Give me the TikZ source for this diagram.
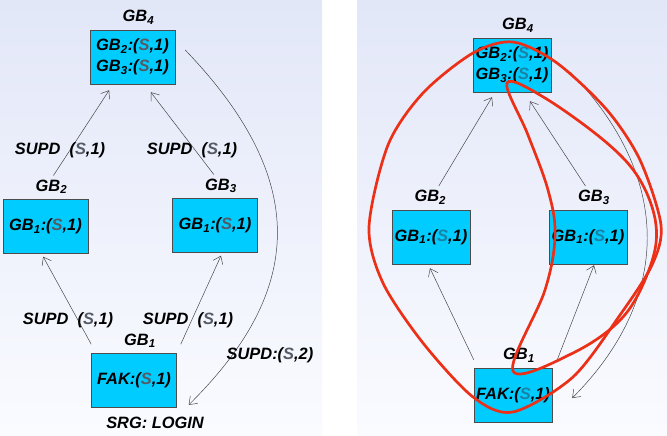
\documentclass[tikz,border=0pt]{standalone}
\usepackage{fontspec}
\setmainfont{Liberation Sans}
\usetikzlibrary{positioning,arrows.meta}
\definecolor{boxcyan}{RGB}{0,204,255}
\definecolor{loopred}{RGB}{236,48,24}
\definecolor{bgtop}{RGB}{226,231,248}
\definecolor{bgbot}{RGB}{250,251,255}
\definecolor{sgrey}{RGB}{85,90,100}
\definecolor{steal}{RGB}{25,130,165}
\newcommand{\gS}[1][sgrey]{\textcolor{#1}{S}}
\tikzset{
gbox/.style={draw=black!70, fill=boxcyan, minimum width=2.55cm, minimum height=1.62cm, inner sep=1pt, align=center},
gboxr/.style={gbox, minimum width=2.34cm},
lab/.style={inner sep=1pt, xshift=0.18cm},
arr/.style={draw=black!75, -{Straight Barb[length=6pt,width=9pt]}},
redloop/.style={draw=loopred, line width=2.3pt},
}

\begin{document}
\begin{tikzpicture}[x=0.03cm, y=-0.03cm, font=\fontsize{14}{18}\selectfont\bfseries\itshape]
\useasboundingbox (0,0) rectangle (667,435);
% the backgrounds
\shade[top color=bgtop, bottom color=bgbot] (0,0) rectangle (322,435);
\shade[top color=bgtop, bottom color=bgbot] (357,0) rectangle (667,435);

% left: the boxes
\node[gbox] (b4L) at (132.5,57) {GB\textsubscript{2}:(\gS,1)\\GB\textsubscript{3}:(\gS,1)};
\node[gbox] (b2L) at (45.5,226.5) {GB\textsubscript{1}:(\gS,1)};
\node[gbox] (b3L) at (215,225.5) {GB\textsubscript{1}:(\gS,1)};
\node[gbox] (b1L) at (134,380.5) {FAK:(\gS,1)};
\node[lab, above=0.12cm of b4L] (l4L) {GB\textsubscript{4}};
\node[lab, above=0.12cm of b2L] (l2L) {GB\textsubscript{2}};
\node[lab, above=0.12cm of b3L] (l3L) {GB\textsubscript{3}};
\node[lab, above=0.12cm of b1L] (l1L) {GB\textsubscript{1}};
\node (srg) at (155,423) {SRG: LOGIN};
% left: the arrows
\draw[arr, shorten <=3pt] (l2L.north) -- ([xshift=-0.7cm,yshift=-0.18cm]b4L.south);
\draw[arr, shorten <=3pt] ([xshift=-0.15cm]l3L.north) -- ([xshift=0.55cm,yshift=-0.24cm]b4L.south);
\draw[arr] ([yshift=0.27cm]b1L.north west) -- ([xshift=-0.07cm,yshift=-0.09cm]b2L.south);
\draw[arr] ([xshift=0.12cm,yshift=0.27cm]b1L.north east) -- ([xshift=0.18cm,yshift=-0.09cm]b3L.south);
\draw[arr] ([xshift=0.3cm,yshift=0.21cm]b4L.east) .. controls (310,180) and (305,290) .. ([xshift=0.36cm,yshift=-0.73cm]b1L.east);
% left: the labels
\node (s42L) at (60,150) {SUPD\ \ (\gS,1)};
\node (s43L) at (192,150) {SUPD\ \ (\gS,1)};
\node (s21L) at (68,320) {SUPD\ \ (\gS,1)};
\node (s31L) at (188,320) {SUPD\ \ (\gS,1)};
\node (s41L) at (270,355) {SUPD:(\gS,2)};

% right: the boxes
\node[gboxr] (b4R) at (512,65) {GB\textsubscript{2}:(\gS[steal],1)\\GB\textsubscript{3}:(\gS[steal],1)};
\node[gboxr] (b2R) at (431,237) {GB\textsubscript{1}:(\gS[steal],1)};
\node[gboxr] (b3R) at (588,237) {GB\textsubscript{1}:(\gS[steal],1)};
\node[gboxr] (b1R) at (513,395) {FAK:(\gS[steal],1)};
\node[lab, above=0.12cm of b4R] (l4R) {GB\textsubscript{4}};
\node[lab, above=0.12cm of b2R, xshift=-0.2cm] (l2R) {GB\textsubscript{2}};
\node[lab, above=0.12cm of b3R] (l3R) {GB\textsubscript{3}};
\node[lab, above=0.12cm of b1R] (l1R) {GB\textsubscript{1}};
% right: the arrows
\draw[arr, shorten <=3pt] ([xshift=0.2cm]l2R.north) -- ([xshift=-0.6cm,yshift=-0.15cm]b4R.south);
\draw[arr, shorten <=3pt] ([xshift=-0.2cm]l3R.north) -- ([xshift=0.54cm,yshift=-0.27cm]b4R.south);
\draw[arr] ([yshift=0.24cm]b1R.north west) -- ([xshift=-0.03cm,yshift=-0.12cm]b2R.south);
\draw[arr] ([xshift=0.15cm,yshift=0.24cm]b1R.north east) -- ([xshift=0.18cm,yshift=-0.03cm]b3R.south);
\draw[arr] ([xshift=0.57cm,yshift=-0.21cm]b4R.east) .. controls (675,180) and (670,300) .. ([xshift=0.6cm,yshift=-0.09cm]b1R.east);
% right: the red loops
\draw[redloop] plot[smooth cycle] coordinates {(513,42) (557,63) (607,110) (640,160) (661,225) (652,265) (620,315) (573,377) (513,412) (473,397) (423,343) (383,283) (369,227) (388,145) (423,93) (473,53)};
\draw[redloop] plot[smooth cycle, tension=0.6] coordinates {(507,83) (528,135) (548,190) (555,235) (545,290) (513,371) (573,353) (623,317) (650,267) (656,225) (640,180) (607,143) (545,98)};
\end{tikzpicture}
\end{document}
